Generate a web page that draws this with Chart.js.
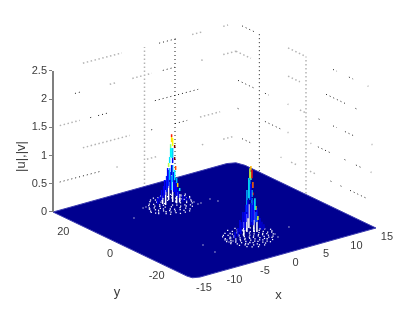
<!DOCTYPE html>
<html>
<head>
<meta charset="utf-8">
<script src="https://cdn.jsdelivr.net/npm/chart.js@4/dist/chart.umd.min.js"></script>
<style>
html, body { margin: 0; padding: 0; background: #fff; }
#wrap { width: 415px; height: 313px; }
</style>
</head>
<body>
<div id="wrap"><canvas id="surf" width="415" height="313"></canvas></div>
<script>
// tick labels
var zTicks = [0, 0.5, 1, 1.5, 2, 2.5];
var xTicks = [-15, -10, -5, 0, 5, 10, 15];
var yTicks = [20, 0, -20];

// plane outline, corners are a bit rounded in the picture
var planeX = [-15, 13.5, 14.6, 15, 15, -13.85, -14.8, -15, -15];
var planeY = [30, 30, 29, 26.1, -30, -30, -29.2, -27.4, 30];

// wall grid pieces that survived the resampling: [z, from, to]
var leftDark = [[2.5, 2.4, 5.2], [2, -11.4, -10.6], [2, 3, 5], [1.5, -8.9, -8.7], [1.5, -7.6, -6.1], [1.5, 1.7, 8.8], [1, 1.1, 1.3], [1, 5, 7], [0.5, -13.9, -7.3]];
var leftGray = [[2.5, -10.1, -3.7], [2.5, 7.8, 9.4], [2.5, 12.9, 13.7], [2, -5.7, -4.8], [2, -2, 1.2], [2, 9.3, 9.6], [2, 12.9, 15], [1.5, -13.9, -10.6], [1, -10.1, -2.4], [1, 9.1, 12.4], [0.5, -4.6, -4.4], [0.5, 0.4, 2], [0.5, 9.4, 9.8], [0.5, 12.9, 14.8]];
var rightDark = [[2.5, 27.4, 22.3], [2.5, -11.6, -13.3], [2.5, -18.4, -20.2], [2, -8.6, -16.7], [2, -21.2, -21.6], [1.5, 29.1, 22.3], [1.5, 17.6, 15.9], [1.5, -5.4, -5.8], [1.5, -11.6, -13.3], [1.5, -16.7, -20.2], [1, 29.3, 28.9], [1, 17.6, 10.7], [1, -5.1, -10.3], [1, -16.5, -16.9], [1, -21.4, -23.6], [0.5, 27.4, 23.6], [0.5, -10.5, -10.9], [0.5, -14.8, -15.2], [0.5, -18.9, -26.6]];
var rightGray = [[2.5, 7.7, 0.9], [2.5, -26.4, -26.8], [2, 30, 23.6], [2, 7.7, 2.6], [1.5, 7.9, 7.5], [1.5, 2.6, 0.4], [1.5, -28.1, -28.5], [1, 7.9, 7.5], [1, -1.9, -2.3], [1, -27.7, -28.1], [0.5, 10.9, 10.5], [0.5, 6.4, 3.4], [0.5, -1.7, -4.3]];

// peak at y = 15.4: strands of the spike, tallest first
var peak1Y = 15.4;
var p1X = [-1.14, -1.14, -0.97, -1.3, -0.64, -1.14, -1.3, -0.64, -1.46, -1.63, -0.97, -0.48, -1.14, -0.64, -1.79, -1.46, -1.3, -0.81, -0.15, -0.31, 0.18, -2.28, -2.78, -0.48, 0.01, -3.1, 0.67, -1.63, -0.97, -0.64, -0.31, -1.96, -2.45, -1.14, -3.43, 1.16, 1.65, -0.97];
var p1Lo = [1.2, 1.11, 1.035, 1.01, 0.99, 0.83, 0.85, 0.778, 0.75, 0.684, 0.734, 0.596, 0.527, 0.42, 0.316, 0.45, 0.27, 0.216, 0.284, 0.36, 0.204, 0.207, 0.133, 0.152, 0.085, 0.106, 0, 0.348, 0.397, 0.21, 0.131, 0.25, 0.16, 0.26, 0.08, 0, 0, 0.82];
var p1Hi = [1.25, 1.2, 1.177, 1.08, 1.044, 1.005, 1.01, 0.83, 0.856, 0.755, 0.823, 0.667, 0.704, 0.6, 0.67, 0.66, 0.585, 0.57, 0.355, 0.45, 0.257, 0.473, 0.31, 0.383, 0.227, 0.21, 0.117, 0.631, 0.699, 0.387, 0.307, 0.535, 0.372, 0.509, 0.188, 0.085, 0.035, 1];
var p1C = [0.85, 0.65, 0.62, 0.5, 1, 0.38, 0.36, 1, 0.35, 0.55, 0.12, 0.8, 0.1, 0.35, 0.12, 0.3, 0.12, 0.12, 0.66, 0.3, 0.38, 0.12, 0.1, 0.1, 0.1, 0.08, 0.08, 0.2, 0.3, 0.12, 0.12, 0.15, 0.1, 0.35, 0.1, 0.08, 0.08, 0.3];
// gaps in the mesh (white)
var p1GapX = [-1.63, -0.97, -2.12, -0.31, -2.61, 0.18];
var p1GapLo = [0.1, 0.043, 0.025, 0, 0.057, 0];
var p1GapHi = [0.418, 0.433, 0.29, 0.2, 0.163, 0.15];

// peak at y = -13.8
var peak2Y = -13.8;
var p2X = [0.69, 0.53, 0.86, 0.69, 0.36, 1.02, 0.69, 0.86, 1.35, 1.02, 0.2, 1.51, 1.84, -0.13, 0.69, 1.02, 1.51, -0.62, -1.11, 2.17, 0.53, 0.86, 0.04, 1.18, 1.68, -0.29, -0.95, 2.5, 2.82, -1.44, -1.93];
var p2Lo = [1.138, 0.999, 0.99, 0.961, 0.65, 0.81, 0.606, 0.654, 0.408, 0.68, 0.3, 0.404, 0.216, 0.24, 0.163, 0.15, 0.19, 0.149, 0.092, 0.066, 0.61, 0.21, 0.413, 0.236, 0.186, 0.103, 0.053, 0.02, 0.027, 0.03, 0.01];
var p2Hi = [1.209, 1.177, 1.133, 1.103, 1.006, 0.915, 0.89, 0.78, 0.62, 0.73, 0.62, 0.475, 0.287, 0.546, 0.553, 0.51, 0.37, 0.433, 0.305, 0.243, 0.965, 0.636, 0.803, 0.59, 0.434, 0.422, 0.266, 0.165, 0.115, 0.174, 0.117];
var p2C = [0.7, 0.58, 0.85, 0.45, 0.36, 0.78, 0.12, 0.33, 0.36, 0.85, 0.12, 0.66, 0.58, 0.12, 0.1, 0.12, 0.2, 0.1, 0.1, 0.1, 0.25, 0.25, 0.3, 0.12, 0.12, 0.12, 0.1, 0.08, 0.08, 0.1, 0.1];
var p2GapX = [0.36, 0.04, 1.18, 1.68, -0.46];
var p2GapLo = [0.119, 0.059, 0.023, 0.009, 0];
var p2GapHi = [0.544, 0.378, 0.413, 0.257, 0.25];

// white specks around the peaks, row by row
var speck1Y = [22, 21.4, 20.6, 19.3, 18.5, 17.2, 16.4, 15.1, 14.3, 13.2, 12.4, 11.3, 10.2, 9.1];
var speck1X = [
  [-1.6, -0.4],
  [-2.3, -1.1, -0.2, 1],
  [-2.7, -1.8, -0.6, 0.2, 0.9, 1.5],
  [-3.3, -2.1, -1.2, 0.4, 1.2, 1.9, 2.6],
  [-3.7, -2.9, -1.7, -0.6, 0.7, 1.8, 2.2],
  [-4.1, -3.2, -2.4, -1.6, 0.3, 1.1, 1.9, 2.5],
  [-4.4, -3.6, -2.7, -2.1, -0.1, 0.6, 1.3, 2.2],
  [-4.7, -3.9, -3.1, -2.3, -1.1, 0.2, 1.2, 1.9],
  [-4.9, -3.7, -2.9, -1.6, -0.7, 0.9, 1.7],
  [-4.6, -4.1, -3.3, -2.2, -0.5, 0.2, 1.4],
  [-4.4, -3.2, -2.6, -1.8, -0.9, 0.1, 0.8],
  [-3.6, -2.8, -2.1, -1.3, -0.4, 0.7],
  [-3.3, -2.4, -1.1, -0.1],
  [-2.1, -1.3, -0.6]
];
var speck2Y = [-8, -9.2, -10.1, -10.8, -12.2, -12.9, -14.1, -15.2, -15.9, -17.1, -18.3, -18.9, -20.2, -21.1, -22];
var speck2X = [
  [-0.9, 0.3],
  [-1.8, -0.6, 0.2, 1.3],
  [-2.4, -1.3, -0.1, 0.7, 1.4, 2],
  [-2.8, -1.9, -1.2, -0.4, 0.6, 1.1, 2.3],
  [-2.9, -2.1, -1.4, -0.7, 0.1, 1.2, 1.8, 2.8],
  [-3.2, -2.4, -1.7, -0.9, -0.2, 0.8, 1.6, 2.4, 3.3],
  [-3.4, -2.7, -1.9, -1.2, -0.5, 0.4, 1.1, 1.9, 2.6, 3.8],
  [-3.1, -2.3, -1.6, -0.8, -0.1, 0.6, 1.4, 2.1, 2.9, 3.6],
  [-3.4, -2.6, -1.8, -1.1, -0.3, 0.3, 1.1, 1.8, 2.5, 3.3],
  [-2.8, -2.1, -1.4, -0.6, 0.1, 0.9, 1.6, 2.3, 3.1],
  [-2.9, -1.9, -1.2, -0.4, 0.4, 1.2, 1.9, 2.6],
  [-2.2, -1.7, -0.9, -0.1, 0.7, 1.4, 2.2],
  [-2.4, -1.3, -0.7, 0.2, 0.9, 1.8],
  [-1.9, -0.7, 0.3, 1.1],
  [-1.2, -0.2]
];

// paler blotches and stray dots on the plane
var hazeX = [-4.29, -4.3, -4.8, 1.77, 1.75, 2.28, -3.03, -2.19, -3.26, -2.63, -1.44, 3.24, 2.9, -7.91, -6.6, 4.47, 4.08, -6.88, 6.2];
var hazeY = [18.16, 16.4, 18.06, 13.42, 11.66, 11.75, -13.29, -12.78, -14.74, -14.8, -12.12, -17.45, -19.63, 13.83, -12.33, 10.2, 12.6, -18.19, -15.7];

var NAVY = "#00008f";
var FONT = "'Liberation Sans', Arial, sans-serif";
var INK = "#3c3c3c";
var Z_UNIT = 56.4;

// 3d to view: h runs along the screen, v stays in z units so the native z axis reads right
function hPos(x, y) {
  return 6.1 * (x + 15) + 2.333 * (30 - y);
}
function vPos(x, y, z) {
  return z + (1.7 * (x + 15) - 1.117 * (30 - y)) / Z_UNIT;
}
function pt(x, y, z) {
  return { x: hPos(x, y), y: vPos(x, y, z) };
}
// the walls sit slightly lower than the plane at the back corner
function wallPt(x, y, z) {
  return { x: hPos(x, y), y: vPos(x, y, z) - (3 / Z_UNIT) * (x + 15) / 30 };
}

function jet(c) {
  function ch(d) { return Math.round(255 * Math.max(0, Math.min(1, 1.5 - Math.abs(4 * c - d)))); }
  return "rgb(" + ch(3) + "," + ch(2) + "," + ch(1) + ")";
}

function wallLines(left, right, verticalX, verticalY) {
  var pts = [];
  left.forEach(function (s) {
    pts.push(wallPt(s[1], 30, s[0]), wallPt(s[2], 30, s[0]), { x: null, y: null });
  });
  right.forEach(function (s) {
    pts.push(wallPt(15, s[1], s[0]), wallPt(15, s[2], s[0]), { x: null, y: null });
  });
  verticalX.forEach(function (x) {
    pts.push(wallPt(x, 30, 0), wallPt(x, 30, 2.5), { x: null, y: null });
  });
  verticalY.forEach(function (y) {
    pts.push(wallPt(15, y, 0), wallPt(15, y, 2.5), { x: null, y: null });
  });
  return pts;
}

function lineSet(data, color, width, dash) {
  return { data: data, showLine: true, borderColor: color, borderWidth: width, borderDash: dash || [], pointRadius: 0, clip: false };
}

function dotSet(data, color, radius) {
  return { data: data, showLine: false, pointStyle: "rect", pointRadius: radius, pointBackgroundColor: color, pointBorderWidth: 0, clip: false };
}

function specks(rowsY, rowsX) {
  var pts = [];
  rowsY.forEach(function (y, i) {
    rowsX[i].forEach(function (x) { pts.push(pt(x, y, 0)); });
  });
  return pts;
}

var sets = [];
sets.push(lineSet(wallLines(leftGray, rightGray, [0], [0]), "#b4b4b4", 1.5, [1.5, 2.5]));
sets.push(lineSet(wallLines(leftDark, rightDark, [5], [20]), "#1c1c1c", 1, [1, 3]));

var planeDots = planeX.map(function (x, i) { return pt(x, planeY[i], 0); });
var plane = lineSet(planeDots, "#3c3cb0", 1);
plane.fill = "shape";
plane.backgroundColor = NAVY;
sets.push(plane);

sets.push(dotSet(hazeX.map(function (x, i) { return pt(x, hazeY[i], 0); }), "#8c8cc8", 1));
sets.push(dotSet(specks(speck1Y, speck1X), "#ffffff", 0.9));
sets.push(dotSet(specks(speck2Y, speck2X), "#ffffff", 0.9));

function strands(xs, y, lo, hi, cs) {
  xs.forEach(function (x, i) {
    sets.push(lineSet([pt(x, y, lo[i]), pt(x, y, hi[i])], cs ? jet(cs[i]) : "#ffffff", 1.5));
  });
}
strands(p1GapX, peak1Y, p1GapLo, p1GapHi);
strands(p2GapX, peak2Y, p2GapLo, p2GapHi);
strands(p1X.slice().reverse(), peak1Y, p1Lo.slice().reverse(), p1Hi.slice().reverse(), p1C.slice().reverse());
strands(p2X.slice().reverse(), peak2Y, p2Lo.slice().reverse(), p2Hi.slice().reverse(), p2C.slice().reverse());

sets.push(lineSet([pt(-15, 30, 0), pt(-15, 30, 2.5)], "#7f7f7f", 2));

// later entries go on top
sets.forEach(function (s, i) { s.order = sets.length - i; });

// x and y run along the plane edges, the library has no axis for that
var edgeLabels = {
  id: "edgeLabels",
  afterDatasetsDraw: function (chart) {
    var ctx = chart.ctx, sx = chart.scales.x, sz = chart.scales.y;
    function at(p) { return [sx.getPixelForValue(p.x), sz.getPixelForValue(p.y)]; }
    ctx.save();
    ctx.fillStyle = INK;
    ctx.textAlign = "center";
    ctx.textBaseline = "middle";
    ctx.font = "11px " + FONT;
    xTicks.forEach(function (t) {
      var p = at(pt(t, -30, 0));
      ctx.fillText(String(t), p[0] + 11, p[1] + 9);
    });
    yTicks.forEach(function (t) {
      var p = at(pt(-15, t, 0));
      ctx.fillText(String(t), p[0] - 13, p[1] + 8.5);
    });
    ctx.font = "13px " + FONT;
    var a = at(pt(-15, 0, 0));
    ctx.fillText("y", a[0] - 6, a[1] + 47);
    var b = at(pt(0, -30, 0));
    ctx.fillText("x", b[0] - 6, b[1] + 42);
    ctx.restore();
  }
};

new Chart(document.getElementById("surf"), {
  type: "scatter",
  data: { datasets: sets },
  plugins: [edgeLabels],
  options: {
    responsive: false,
    animation: false,
    events: [],
    layout: { padding: 0, autoPadding: false },
    plugins: { legend: { display: false }, tooltip: { enabled: false } },
    elements: { line: { tension: 0, borderCapStyle: "butt" } },
    scales: {
      x: { type: "linear", display: false, min: -1, max: 362 },
      y: {
        type: "linear",
        min: -101 / Z_UNIT,
        max: 212 / Z_UNIT,
        afterBuildTicks: function (axis) {
          axis.ticks = zTicks.map(function (v) { return { value: v }; });
        },
        // the tick labels must not shrink the plot, every mark relies on the full height
        afterFit: function (axis) {
          axis.width = 52;
          axis.paddingTop = 0;
          axis.paddingBottom = 0;
        },
        grid: { drawOnChartArea: false, drawTicks: true, tickLength: 3, color: "#7f7f7f", lineWidth: 1 },
        border: { display: false },
        ticks: {
          autoSkip: false,
          padding: 2,
          color: INK,
          font: { family: FONT, size: 11 },
          callback: function (v) { return String(v); }
        },
        title: {
          display: true,
          text: "|u|,|v|",
          color: INK,
          font: { family: FONT, size: 13 },
          padding: { top: 14, bottom: 0 }
        }
      }
    }
  }
});
</script>
</body>
</html>
